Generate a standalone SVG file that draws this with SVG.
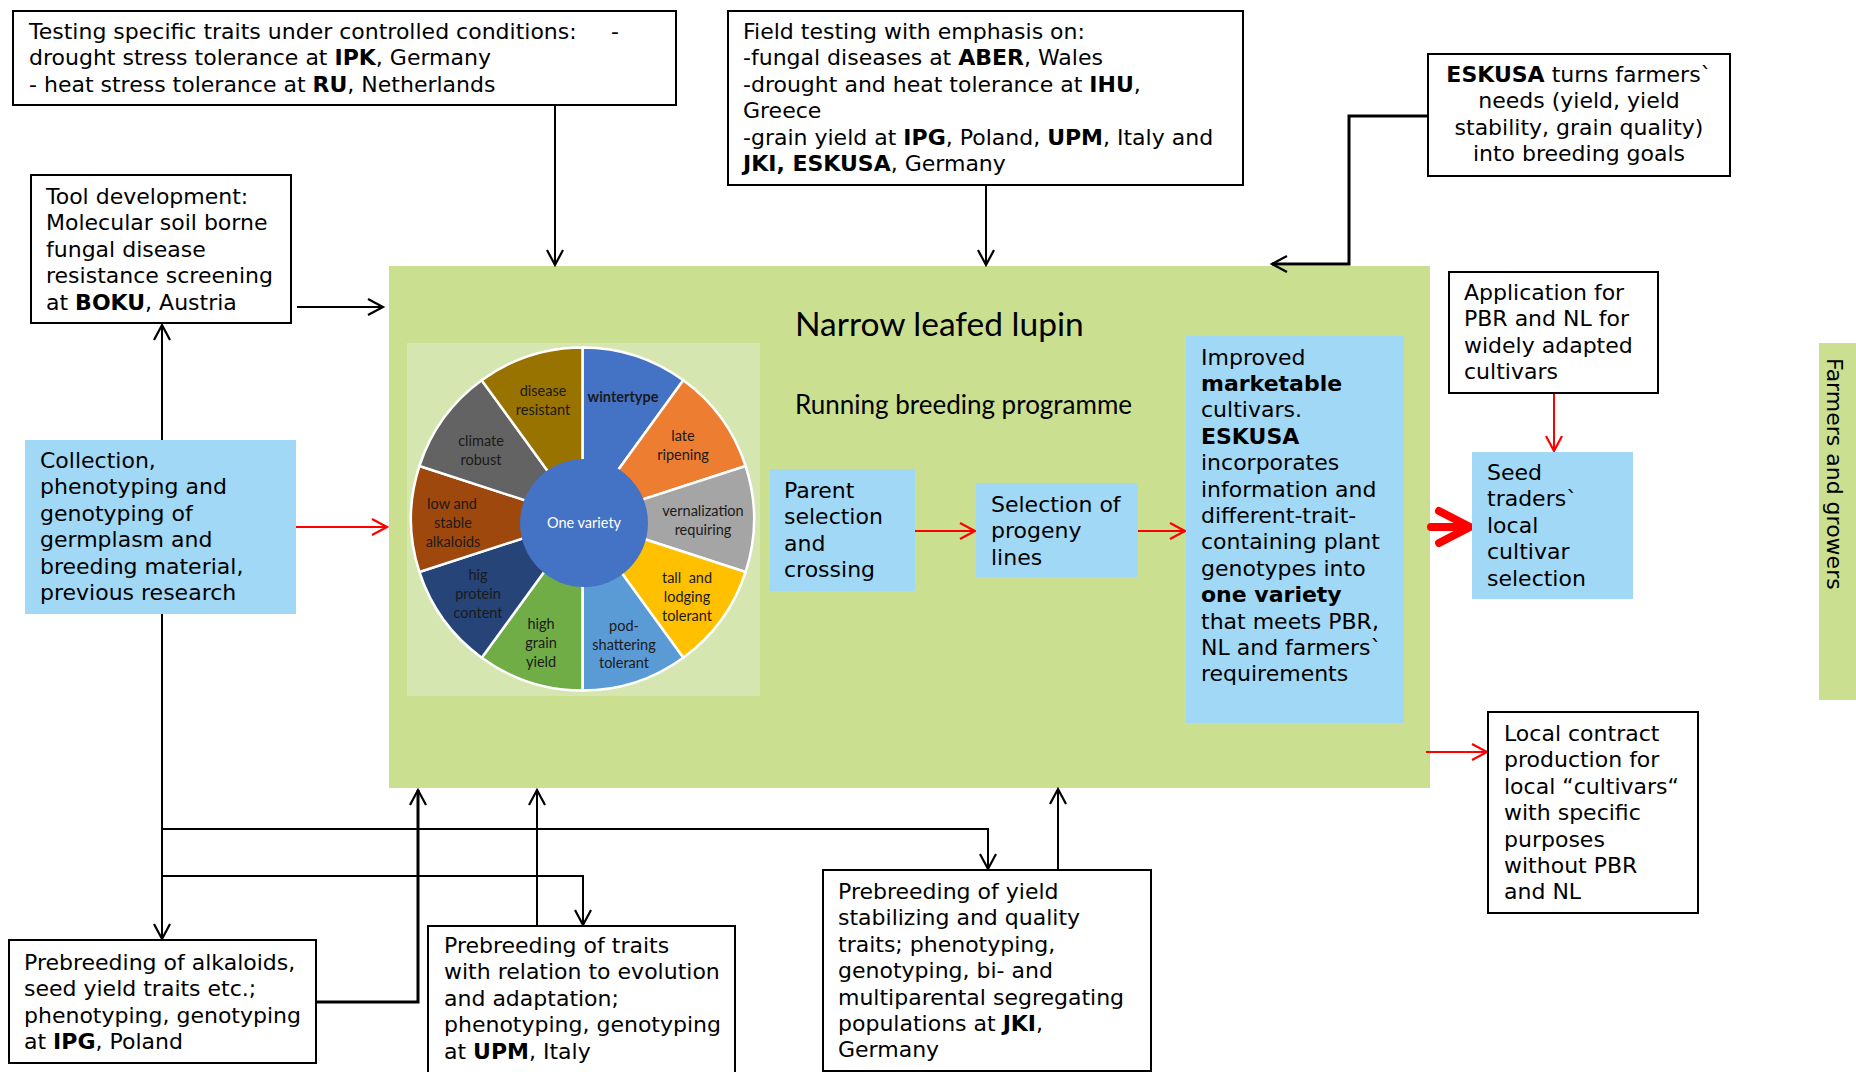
<svg xmlns="http://www.w3.org/2000/svg" width="1856" height="1072" viewBox="0 0 1856 1072">
<style>
.box{fill:#fff;stroke:#000;stroke-width:2}
.blue{fill:#A1D8F6}
.green{fill:#CBDF91}
.t{font-family:"DejaVu Sans",Verdana,sans-serif;font-size:22px;fill:#000}
.b{font-weight:bold}
.cal{font-family:Lato,"Liberation Sans",sans-serif;fill:#000}
.lbl{font-family:Lato,"Liberation Sans",sans-serif;font-size:14.5px;text-anchor:middle;fill:#1a1a1a}
.conn{fill:none;stroke:#000;stroke-width:2}
.thick{stroke-width:3}
.red{fill:none;stroke:#f00;stroke-width:2}
.wedge{stroke:#fff;stroke-width:2.5}
</style>
<defs>
<marker id="ah" viewBox="-20 -12 24 24" markerWidth="24" markerHeight="24" refX="0" refY="0" orient="auto" markerUnits="userSpaceOnUse">
<path d="M-15,-8 L0,0 L-15,8" fill="none" stroke="#000" stroke-width="2.2"/>
</marker>
<marker id="ahr" viewBox="-20 -12 24 24" markerWidth="24" markerHeight="24" refX="0" refY="0" orient="auto" markerUnits="userSpaceOnUse">
<path d="M-15,-8 L0,0 L-15,8" fill="none" stroke="#f00" stroke-width="2.2"/>
</marker>
</defs>
<rect width="1856" height="1072" fill="#fff"/>

<g id="main-area">
<rect class="green" x="389" y="266" width="1041" height="522"/>
<text class="cal" x="795" y="336" font-size="33.5">Narrow leafed lupin</text>
<text class="cal" x="795" y="414" font-size="26">Running breeding programme</text>
</g>

<g id="wheel">
<rect x="407" y="343" width="353" height="353" fill="#D5E6B0"/>
<path class="wedge" fill="#4472C4" d="M582.5,519 L582.5,347.5 A171.5,171.5 0 0 1 683.3,380.3 Z"/>
<path class="wedge" fill="#ED7D31" d="M582.5,519 L683.3,380.3 A171.5,171.5 0 0 1 745.6,466 Z"/>
<path class="wedge" fill="#A5A5A5" d="M582.5,519 L745.6,466 A171.5,171.5 0 0 1 745.6,572 Z"/>
<path class="wedge" fill="#FFC000" d="M582.5,519 L745.6,572 A171.5,171.5 0 0 1 683.3,657.7 Z"/>
<path class="wedge" fill="#5B9BD5" d="M582.5,519 L683.3,657.7 A171.5,171.5 0 0 1 582.5,690.5 Z"/>
<path class="wedge" fill="#70AD47" d="M582.5,519 L582.5,690.5 A171.5,171.5 0 0 1 481.7,657.7 Z"/>
<path class="wedge" fill="#264478" d="M582.5,519 L481.7,657.7 A171.5,171.5 0 0 1 419.4,572 Z"/>
<path class="wedge" fill="#9E480E" d="M582.5,519 L419.4,572 A171.5,171.5 0 0 1 419.4,466 Z"/>
<path class="wedge" fill="#636363" d="M582.5,519 L419.4,466 A171.5,171.5 0 0 1 481.7,380.3 Z"/>
<path class="wedge" fill="#997300" d="M582.5,519 L481.7,380.3 A171.5,171.5 0 0 1 582.5,347.5 Z"/>
<circle cx="584" cy="523" r="64" fill="#4472C4"/>
<text class="lbl" x="584" y="528" font-size="12.5" style="fill:#fff">One variety</text>
<text class="lbl b" x="623" y="402">wintertype</text>
<text class="lbl"><tspan x="683" y="441">late</tspan><tspan x="683" y="460">ripening</tspan></text>
<text class="lbl"><tspan x="703" y="516">vernalization</tspan><tspan x="703" y="535">requiring</tspan></text>
<text class="lbl" xml:space="preserve"><tspan x="687" y="583">tall  and</tspan><tspan x="687" y="602">lodging</tspan><tspan x="687" y="621">tolerant</tspan></text>
<text class="lbl"><tspan x="624" y="631">pod-</tspan><tspan x="624" y="650">shattering</tspan><tspan x="624" y="668">tolerant</tspan></text>
<text class="lbl"><tspan x="541" y="629">high</tspan><tspan x="541" y="648">grain</tspan><tspan x="541" y="667">yield</tspan></text>
<text class="lbl"><tspan x="478" y="580">hig</tspan><tspan x="478" y="599">protein</tspan><tspan x="478" y="618">content</tspan></text>
<text class="lbl"><tspan x="452" y="509">low and</tspan><tspan x="453" y="528">stable</tspan><tspan x="453" y="547">alkaloids</tspan></text>
<text class="lbl"><tspan x="481" y="446">climate</tspan><tspan x="481" y="465">robust</tspan></text>
<text class="lbl"><tspan x="543" y="396">disease</tspan><tspan x="543" y="415">resistant</tspan></text>
</g>

<g id="farmers-strip">
<rect class="green" x="1819" y="343" width="37" height="357"/>
<text class="t" transform="translate(1827,358) rotate(90)">Farmers and growers</text>
</g>

<g id="connectors">
<line class="conn" x1="555" y1="105" x2="555" y2="265" marker-end="url(#ah)"/>
<line class="conn" x1="986" y1="185" x2="986" y2="265" marker-end="url(#ah)"/>
<polyline class="conn thick" points="1428,116 1349,116 1349,264 1272,264" marker-end="url(#ah)"/>
<line class="conn" x1="297" y1="307" x2="383" y2="307" marker-end="url(#ah)"/>
<line class="conn" x1="162" y1="440" x2="162" y2="325" marker-end="url(#ah)"/>
<line class="red" x1="296" y1="527" x2="387" y2="527" marker-end="url(#ahr)"/>
<line class="conn" x1="162" y1="614" x2="162" y2="939" marker-end="url(#ah)"/>
<polyline class="conn" points="162,829 988,829 988,869" marker-end="url(#ah)"/>
<polyline class="conn" points="162,876 583,876 583,925" marker-end="url(#ah)"/>
<polyline class="conn thick" points="316,1002 418,1002 418,790" marker-end="url(#ah)"/>
<line class="conn" x1="537" y1="926" x2="537" y2="790" marker-end="url(#ah)"/>
<line class="conn" x1="1058" y1="872" x2="1058" y2="789" marker-end="url(#ah)"/>
<line class="red" x1="915" y1="531" x2="975" y2="531" marker-end="url(#ahr)"/>
<line class="red" x1="1138" y1="531" x2="1185" y2="531" marker-end="url(#ahr)"/>
<path d="M1431,527 H1466 M1439,511 L1470,527 L1439,543" fill="none" stroke="#f00" stroke-width="8" stroke-linecap="round" stroke-linejoin="round"/>
<line class="red" x1="1554" y1="393" x2="1554" y2="451" marker-end="url(#ahr)"/>
<line class="red" x1="1426" y1="752" x2="1487" y2="752" marker-end="url(#ahr)"/>
</g>

<g id="controlled-testing">
<rect class="box" x="13" y="11" width="663" height="94"/>
<text class="t" x="29" y="39">Testing specific traits under controlled conditions:<tspan x="611">-</tspan></text>
<text class="t" x="29" y="65.4">drought stress tolerance at <tspan class="b">IPK</tspan>, Germany</text>
<text class="t" x="29" y="91.8">- heat stress tolerance at <tspan class="b">RU</tspan>, Netherlands</text>
</g>

<g id="field-testing">
<rect class="box" x="728" y="11" width="515" height="174"/>
<text class="t" x="743" y="39">Field testing with emphasis on:</text>
<text class="t" x="743" y="65.4">-fungal diseases at <tspan class="b">ABER</tspan>, Wales</text>
<text class="t" x="743" y="91.8">-drought and heat tolerance at <tspan class="b">IHU</tspan>,</text>
<text class="t" x="743" y="118.2">Greece</text>
<text class="t" x="743" y="144.6">-grain yield at <tspan class="b">IPG</tspan>, Poland, <tspan class="b">UPM</tspan>, Italy and</text>
<text class="t" x="743" y="171"><tspan class="b">JKI, ESKUSA</tspan>, Germany</text>
</g>

<g id="eskusa-goals">
<rect class="box" x="1428" y="54" width="302" height="122"/>
<text class="t" text-anchor="middle" x="1579" y="82"><tspan class="b">ESKUSA</tspan> turns farmers`</text>
<text class="t" text-anchor="middle" x="1579" y="108.4">needs (yield, yield</text>
<text class="t" text-anchor="middle" x="1579" y="134.8">stability, grain quality)</text>
<text class="t" text-anchor="middle" x="1579" y="161.2">into breeding goals</text>
</g>

<g id="tool-development">
<rect class="box" x="31" y="175" width="260" height="148"/>
<text class="t" x="46" y="204">Tool development:</text>
<text class="t" x="46" y="230.4">Molecular soil borne</text>
<text class="t" x="46" y="256.8">fungal disease</text>
<text class="t" x="46" y="283.2">resistance screening</text>
<text class="t" x="46" y="309.6">at <tspan class="b">BOKU</tspan>, Austria</text>
</g>

<g id="collection">
<rect class="blue" x="25" y="440" width="271" height="174"/>
<text class="t" x="40" y="468">Collection,</text>
<text class="t" x="40" y="494.4">phenotyping and</text>
<text class="t" x="40" y="520.8">genotyping of</text>
<text class="t" x="40" y="547.2">germplasm and</text>
<text class="t" x="40" y="573.6">breeding material,</text>
<text class="t" x="40" y="600">previous research</text>
</g>

<g id="parent-selection">
<rect class="blue" x="770" y="469" width="145" height="122"/>
<text class="t" x="784" y="498">Parent</text>
<text class="t" x="784" y="524.4">selection</text>
<text class="t" x="784" y="550.8">and</text>
<text class="t" x="784" y="577.2">crossing</text>
</g>

<g id="progeny-selection">
<rect class="blue" x="976" y="483" width="162" height="94"/>
<text class="t" x="991" y="512">Selection of</text>
<text class="t" x="991" y="538.4">progeny</text>
<text class="t" x="991" y="564.8">lines</text>
</g>

<g id="improved-cultivars">
<rect class="blue" x="1186" y="336" width="218" height="387"/>
<text class="t" x="1201" y="364.5">Improved</text>
<text class="t b" x="1201" y="390.9">marketable</text>
<text class="t" x="1201" y="417.3">cultivars.</text>
<text class="t b" x="1201" y="443.7">ESKUSA</text>
<text class="t" x="1201" y="470.1">incorporates</text>
<text class="t" x="1201" y="496.5">information and</text>
<text class="t" x="1201" y="522.9">different-trait-</text>
<text class="t" x="1201" y="549.3">containing plant</text>
<text class="t" x="1201" y="575.7">genotypes into</text>
<text class="t b" x="1201" y="602.1">one variety</text>
<text class="t" x="1201" y="628.5">that meets PBR,</text>
<text class="t" x="1201" y="654.9">NL and farmers`</text>
<text class="t" x="1201" y="681.3">requirements</text>
</g>

<g id="application">
<rect class="box" x="1449" y="272" width="209" height="121"/>
<text class="t" x="1464" y="300">Application for</text>
<text class="t" x="1464" y="326.4">PBR and NL for</text>
<text class="t" x="1464" y="352.8">widely adapted</text>
<text class="t" x="1464" y="379.2">cultivars</text>
</g>

<g id="seed-traders">
<rect class="blue" x="1472" y="452" width="161" height="147"/>
<text class="t" x="1487" y="480">Seed</text>
<text class="t" x="1487" y="506.4">traders`</text>
<text class="t" x="1487" y="532.8">local</text>
<text class="t" x="1487" y="559.2">cultivar</text>
<text class="t" x="1487" y="585.6">selection</text>
</g>

<g id="local-contract">
<rect class="box" x="1488" y="712" width="210" height="201"/>
<text class="t" x="1504" y="741">Local contract</text>
<text class="t" x="1504" y="767.4">production for</text>
<text class="t" x="1504" y="793.8">local “cultivars“</text>
<text class="t" x="1504" y="820.2">with specific</text>
<text class="t" x="1504" y="846.6">purposes</text>
<text class="t" x="1504" y="873">without PBR</text>
<text class="t" x="1504" y="899.4">and NL</text>
</g>

<g id="prebreeding-ipg">
<rect class="box" x="9" y="940" width="307" height="123"/>
<text class="t" x="24" y="970">Prebreeding of alkaloids,</text>
<text class="t" x="24" y="996.4">seed yield traits etc.;</text>
<text class="t" x="24" y="1022.8">phenotyping, genotyping</text>
<text class="t" x="24" y="1049.2">at <tspan class="b">IPG</tspan>, Poland</text>
</g>

<g id="prebreeding-upm">
<rect class="box" x="428" y="926" width="307" height="160"/>
<text class="t" x="444" y="953">Prebreeding of traits</text>
<text class="t" x="444" y="979.4">with relation to evolution</text>
<text class="t" x="444" y="1005.8">and adaptation;</text>
<text class="t" x="444" y="1032.2">phenotyping, genotyping</text>
<text class="t" x="444" y="1058.6">at <tspan class="b">UPM</tspan>, Italy</text>
</g>

<g id="prebreeding-jki">
<rect class="box" x="823" y="870" width="328" height="201"/>
<text class="t" x="838" y="899">Prebreeding of yield</text>
<text class="t" x="838" y="925.4">stabilizing and quality</text>
<text class="t" x="838" y="951.8">traits; phenotyping,</text>
<text class="t" x="838" y="978.2">genotyping, bi- and</text>
<text class="t" x="838" y="1004.6">multiparental segregating</text>
<text class="t" x="838" y="1031">populations at <tspan class="b">JKI</tspan>,</text>
<text class="t" x="838" y="1057.4">Germany</text>
</g>
</svg>
